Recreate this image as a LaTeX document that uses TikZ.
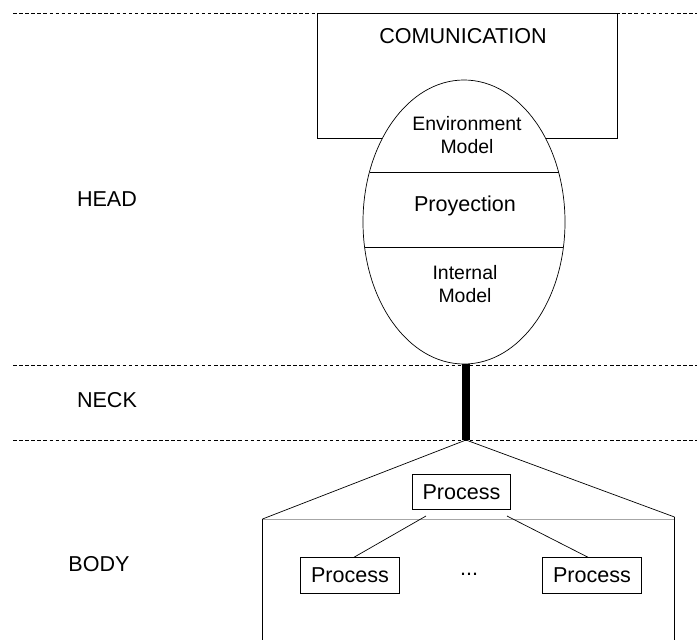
\documentclass[tikz,border=0pt]{standalone}
\usepackage{fontspec}
\setmainfont{Liberation Sans}
\usetikzlibrary{shapes.geometric, positioning, calc}

\begin{document}
\begin{tikzpicture}
        [
          x=0.03cm, y=-0.03cm,
          every node/.style={align=center, font=\fontsize{18.4}{20}\selectfont},
          small/.style={font=\fontsize{16.6}{19.6}\selectfont},
          sep/.style={dash pattern=on 3pt off 2.2pt, line width=0.6pt},
          proc/.style={draw, line width=0.7pt, inner sep=0pt,
                       minimum width=2.95cm, minimum height=1.07cm}
        ]
        \useasboundingbox (0,0) rectangle (697,640);

        % separators
        \draw[sep] (13,13) -- (697,13);
        \draw[sep] (13,365) -- (697,365);
        \draw[sep] (13,440) -- (697,440);

        % levels
        \node[anchor=base] (head lbl) at (107,206) {HEAD};
        \node[anchor=base] (neck lbl) at (107,407) {NECK};
        \node[anchor=base] (body lbl) at (99,571) {BODY};

        % head
        \draw[line width=0.7pt] (317,13) rectangle (617,138);
        \node[anchor=base] (com) at (463,43) {COMUNICATION};
        \node[draw, ellipse, fill=white, line width=0.6pt, inner sep=0pt,
              minimum width=6.06cm, minimum height=8.52cm] (head) at (464,222) {};
        \draw[line width=0.6pt] (369.5,172) -- (558.5,172);
        \draw[line width=0.6pt] (364.6,247) -- (563.4,247);
        \node[small] (env) at (467,135) {Environment\\Model};
        \node[anchor=base] (proy) at (465,211) {Proyection};
        \node[small] (int) at (465,284.5) {Internal\\Model};

        % neck
        \coordinate (apex) at (466,440);
        \draw[line width=6pt] (head.south -| apex) -- (apex);

        % body
        \coordinate (bl) at (262.5,519);
        \coordinate (br) at (674.5,517);
        \draw[line width=0.6pt, gray!70] (bl) -- (br |- bl);
        \draw[line width=0.6pt] (bl) -- (apex) -- (br);
        \draw[line width=0.7pt] (bl) -- (262.5,640);
        \draw[line width=0.7pt] (br) -- (674.5,640);

        \node[proc] (p0) at (461.5,492) {Process};
        \node[proc] (p1) at (350,575.5) {Process};
        \node[proc] (p2) at (592,575.5) {Process};
        \node[anchor=base] (dots) at (469,575) {...};

        \coordinate (s1) at (426,516);
        \coordinate (s2) at (507,516);
        \draw[line width=0.6pt] (s1) -- ($(p1.north)+(4,0)$);
        \draw[line width=0.6pt] (s2) -- ($(p2.north)+(-4,0)$);
      \end{tikzpicture}
\end{document}
